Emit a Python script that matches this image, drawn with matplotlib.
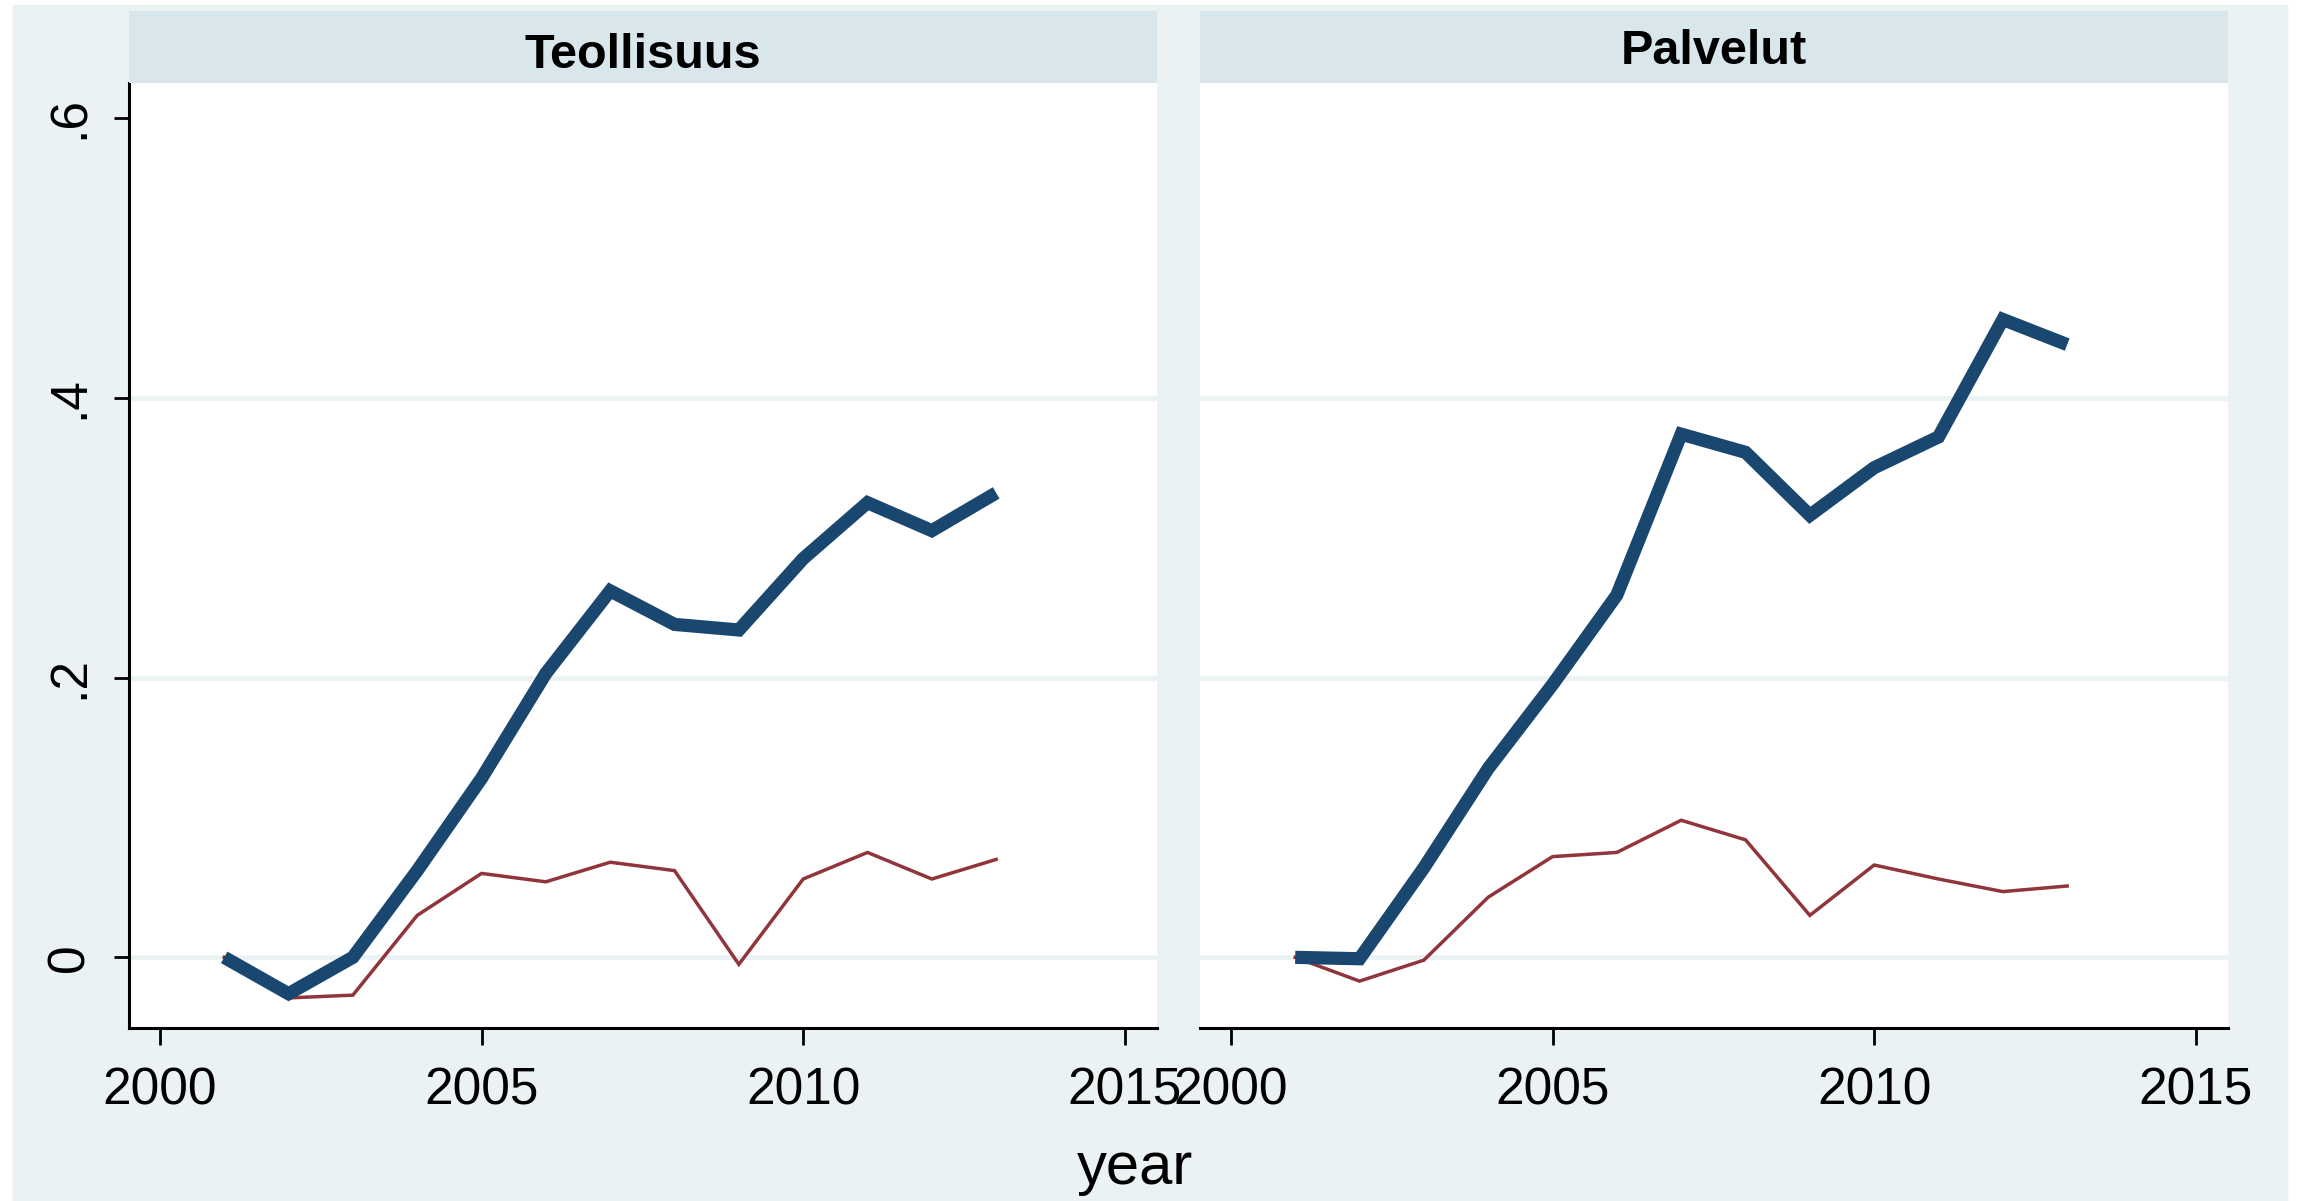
import matplotlib.pyplot as plt
from matplotlib.patches import Rectangle

plt.rcParams['font.family'] = ['Liberation Sans', 'DejaVu Sans']

# data
years = [2001, 2002, 2003, 2004, 2005, 2006, 2007, 2008, 2009, 2010, 2011, 2012, 2013]
panels = ["Teollisuus", "Palvelut"]

teoll_blue = [0.000, -0.026, 0.000, 0.062, 0.128, 0.203, 0.262, 0.238, 0.234, 0.285, 0.325, 0.305, 0.332]
teoll_red = [0.000, -0.029, -0.027, 0.030, 0.060, 0.054, 0.068, 0.062, -0.005, 0.056, 0.075, 0.056, 0.070]
palv_blue = [0.000, -0.001, 0.064, 0.135, 0.195, 0.259, 0.374, 0.361, 0.316, 0.350, 0.372, 0.456, 0.438]
palv_red = [0.000, -0.017, -0.002, 0.043, 0.072, 0.075, 0.098, 0.084, 0.030, 0.066, 0.056, 0.047, 0.051]

xticks = [2000, 2005, 2010, 2015]
yticks = [0, 0.2, 0.4, 0.6]
ytick_labels = ["0", ".2", ".4", ".6"]

BG = '#EAF2F3'
STRIP = '#D9E6EB'
BLUE = '#1a476f'
RED = '#90353b'

W, H = 2303, 1201
fig = plt.figure(figsize=(W / 100, H / 100), dpi=100)
fig.patch.set_facecolor('white')
# outer graph region (stata style)
fig.patches.append(Rectangle((13 / W, 0), (2287 - 13) / W, (1201 - 5) / H,
                             transform=fig.transFigure, color=BG, zorder=-10))

def fx(px):
    return px / W

def fy(py):
    return 1 - py / H

panel_x = [(129, 1157), (1200, 2228)]
top, bottom, strip_top = 83, 1028, 11
series = [(teoll_blue, teoll_red), (palv_blue, palv_red)]
title_y = [55, 51]

for i, (x0, x1) in enumerate(panel_x):
    ax = fig.add_axes([fx(x0), fy(bottom), fx(x1 - x0), fy(top) - fy(bottom)])
    ax.set_facecolor('white')
    blue, red = series[i]
    ax.plot(years, red, color=RED, lw=2.5, solid_joinstyle='miter', zorder=3)
    ax.plot(years, blue, color=BLUE, lw=9.5, solid_joinstyle='miter',
            solid_capstyle='butt', zorder=4)
    ax.set_xlim(1999.52, 2015.5)
    ax.set_ylim(-0.0505, 0.625)
    ax.set_xticks(xticks)
    ax.set_yticks(yticks)
    ax.set_yticklabels(ytick_labels)
    ax.grid(axis='y', color=BG, lw=3.3, zorder=1)
    ax.get_ygridlines()[-1].set_visible(False)
    for s in ['top', 'right']:
        ax.spines[s].set_visible(False)
    ax.spines['bottom'].set_linewidth(2.2)
    ax.spines['left'].set_linewidth(2.2)
    ax.tick_params(axis='x', length=12, width=2, labelsize=37, pad=16)
    ax.tick_params(axis='y', length=11, width=2, labelsize=37, pad=14,
                   labelrotation=90)
    for lab in ax.get_yticklabels():
        lab.set_va('center')
    if i == 1:
        ax.spines['left'].set_visible(False)
        ax.tick_params(axis='y', left=False, labelleft=False)

    # title strip
    sax = fig.add_axes([fx(x0), fy(top), fx(x1 - x0), fy(strip_top) - fy(top)])
    sax.set_facecolor(STRIP)
    sax.set_xticks([])
    sax.set_yticks([])
    for s in sax.spines.values():
        s.set_visible(False)
    fig.text(fx((x0 + x1) / 2), fy(title_y[i]), panels[i], ha='center', va='center',
             fontsize=35, fontweight='bold')

fig.text(fx(1135), fy(1168), "year", ha='center', va='center', fontsize=43)

fig.savefig('out.png', dpi=100)
